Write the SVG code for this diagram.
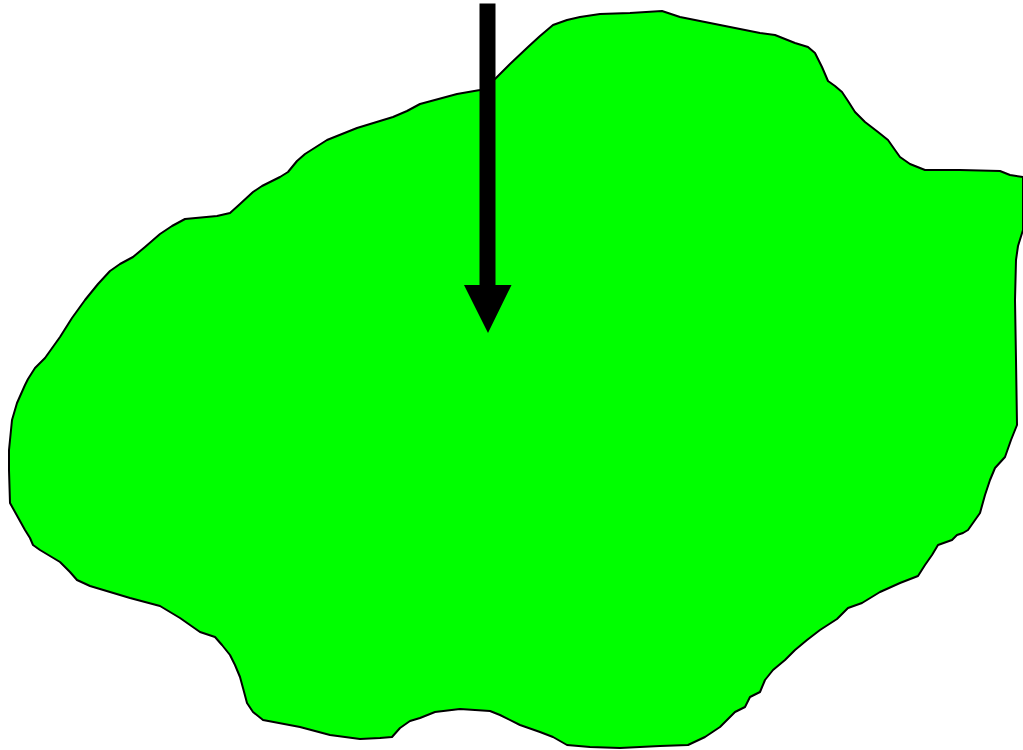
<svg xmlns="http://www.w3.org/2000/svg" width="1023" height="750" viewBox="0 0 1023 750">
<style>
.blob{fill:#00ff00;stroke:#000;stroke-width:2;stroke-linejoin:round}
.arrow{fill:#000;stroke:none}
</style>
<rect width="1023" height="750" fill="#fff"/>
<g id="region">
<polygon class="blob" points="480,90 495,79 510,64 528,47 540,36 553,25 567,20 580,17 600,14 630,13 662,11 680,17 720,25 760,33 775,35 795,43 808,47 815,53 822,67 828,81 835,86 842,92 848,101 855,112 865,122 878,132 888,140 895,150 900,157 910,164 925,170 960,170 1000,171 1010,175 1023,177 1023,230 1018,246 1016,260 1015,300 1016,360 1017,425 1011,440 1005,457 995,468 990,480 985,495 980,513 968,530 963,533 957,535 952,540 938,545 932,555 925,565 918,576 900,583 880,592 862,603 848,608 837,619 820,630 807,640 795,650 785,660 773,670 765,680 760,692 750,697 745,707 735,712 720,727 705,737 688,745 660,746 620,748 590,747 567,745 553,737 540,732 520,725 500,715 490,711 460,709 435,712 420,718 410,721 400,728 392,737 380,738 360,739 330,735 300,727 263,720 253,712 247,703 243,688 240,677 235,665 230,655 222,645 215,637 200,632 180,618 160,606 130,598 110,592 90,586 77,580 70,572 60,562 40,550 33,545 30,538 25,530 15,512 10,503 9,470 9,450 12,420 17,403 25,385 28,379 35,368 45,358 60,337 72,318 85,300 98,284 110,271 120,264 133,257 145,247 160,234 172,226 185,219 217,216 230,213 240,204 253,192 262,186 280,177 288,172 297,161 305,154 327,140 357,128 393,117 407,111 420,104 457,94"/>
</g>
<g id="connectors">
<path class="arrow" d="M479.5,3.5 H495.5 V285 H511.5 L488,333 L464,285 H479.5 Z"/>
</g>
</svg>
